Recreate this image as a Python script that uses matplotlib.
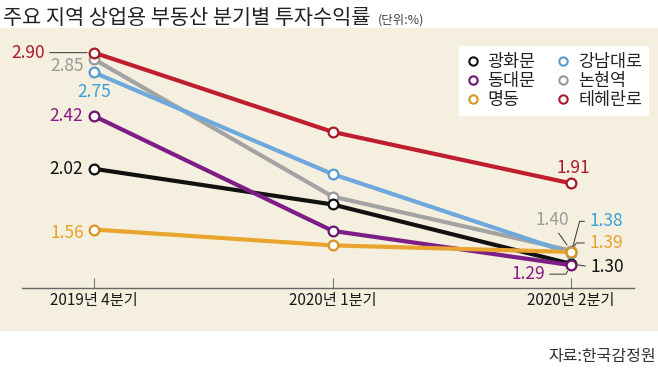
import matplotlib
matplotlib.use("Agg")
import matplotlib.pyplot as plt
from matplotlib.patches import Rectangle
from matplotlib.lines import Line2D

plt.rcParams['font.family'] = ['Noto Sans CJK KR', 'DejaVu Sans']

quarters = ["2019년 4분기", "2020년 1분기", "2020년 2분기"]
names = ["광화문", "동대문", "명동", "강남대로", "논현역", "테헤란로"]
gwanghwamun = [2.02, 1.75, 1.30]
dongdaemun = [2.42, 1.55, 1.29]
myeongdong = [1.56, 1.44, 1.39]
gangnam = [2.75, 1.98, 1.38]
nonhyeon = [2.85, 1.81, 1.40]
teheran = [2.90, 2.30, 1.91]

series = {
    "광화문": gwanghwamun, "동대문": dongdaemun, "명동": myeongdong,
    "강남대로": gangnam, "논현역": nonhyeon, "테헤란로": teheran,
}
line_colors = {"광화문": "#111111", "동대문": "#7d1d86", "명동": "#e9a430",
               "강남대로": "#6fa8dc", "논현역": "#a3a3a3", "테헤란로": "#bf1e2e"}
edge_colors = {"광화문": "#111111", "동대문": "#6a1570", "명동": "#d9951f",
               "강남대로": "#5a9bd0", "논현역": "#999999", "테헤란로": "#a8192a"}
label_colors = {"광화문": "#111111", "동대문": "#8a1a8a", "명동": "#e8a22a",
                "강남대로": "#3aa0d8", "논현역": "#9a9a9a", "테헤란로": "#a8192a"}
draw_order = ["논현역", "강남대로", "광화문", "동대문", "명동", "테헤란로"]

W, H = 658, 382
fig = plt.figure(figsize=(W / 100, H / 100), dpi=100)
fig.patch.set_facecolor("white")
fig.patches.append(Rectangle((0, (H - 331) / H), 1, (331 - 28) / H,
                             transform=fig.transFigure, facecolor="#f4efde",
                             edgecolor="none", zorder=-10))

ax = fig.add_axes([22 / W, (H - 288) / H, 612 / W, (288 - 40) / H])
ax.set_facecolor("none")
ax.set_zorder(1)
ax.set_xlim(-0.302, 2.264)
ax.set_ylim(1.117, 2.996)

xs = list(range(len(quarters)))
for z, name in enumerate(draw_order):
    ax.plot(xs, series[name], color=line_colors[name], lw=3.0,
            solid_capstyle="round", zorder=2 + z,
            marker="o", markersize=7, markerfacecolor="white",
            markeredgecolor=edge_colors[name], markeredgewidth=1.6)

for s in ["top", "right", "left"]:
    ax.spines[s].set_visible(False)
ax.spines["bottom"].set_color("#666666")
ax.spines["bottom"].set_linewidth(1.0)
ax.set_yticks([])
ax.set_xticks(xs)
ax.set_xticklabels(quarters, fontsize=11, color="#1a1a1a")
ax.tick_params(axis="x", direction="in", length=7, width=0.8, color="#777777", pad=3)

px = 0.72  # points per pixel


def lab(name, idx, dx, dy, conn=None, relpos=(0.5, 0.5), shrinkB=5):
    v = series[name][idx]
    kw = dict(xy=(idx, v), xytext=(dx * px, dy * px), textcoords="offset points",
              ha="center", va="center", fontsize=12.5, color=label_colors[name],
              zorder=20)
    if conn is not None:
        kw["arrowprops"] = dict(arrowstyle="-", color="#333333", lw=0.7,
                                connectionstyle=conn, shrinkA=1.5, shrinkB=shrinkB,
                                relpos=relpos)
    ax.annotate(f"{v:.2f}", **kw)


lab("테헤란로", 0, -66, 0, conn="arc3", relpos=(1, 0.5))
lab("논현역", 0, -27, -7)
lab("강남대로", 0, 0, -20)
lab("동대문", 0, -28, 0)
lab("광화문", 0, -28, 0)
lab("명동", 0, -27, -3)
lab("테헤란로", 2, 2, 15)
lab("논현역", 2, -19, 31, conn="arc3", relpos=(0.6, 0))
lab("강남대로", 2, 35, 32, conn="angle,angleA=0,angleB=75,rad=0", relpos=(0, 0.5))
lab("명동", 2, 35, 9, conn="angle,angleA=0,angleB=60,rad=0", relpos=(0, 0.5))
lab("광화문", 2, 36, -3, conn="arc3", relpos=(0, 0.5))
lab("동대문", 2, -43, -9, conn="angle,angleA=0,angleB=60,rad=0", relpos=(1, 0.5))

handles = [Line2D([], [], linestyle="none", marker="o", markersize=6,
                  markerfacecolor="white", markeredgecolor=edge_colors[n],
                  markeredgewidth=1.5) for n in names]
leg = fig.legend(handles, names, ncol=2, loc="upper right",
                 bbox_to_anchor=(649 / W, (H - 46) / H),
                 fontsize=12.5, frameon=True, fancybox=False,
                 handlelength=0.8, handletextpad=0.45, columnspacing=1.2,
                 labelspacing=0.05, borderpad=0.4, borderaxespad=0)
leg.set_zorder(30)
leg.get_frame().set_facecolor("white")
leg.get_frame().set_edgecolor("none")
leg.get_frame().set_alpha(1)
for t in leg.get_texts():
    t.set_color("#222222")

fig.text(3 / W, 1 - 18 / H, "주요 지역 상업용 부동산 분기별 투자수익률",
         fontsize=15, fontweight="medium", color="#222222", ha="left", va="center")
fig.text(378 / W, 1 - 20 / H, "(단위:%)", fontsize=9, color="#444444",
         ha="left", va="center")
fig.text(656 / W, 1 - 357 / H, "자료:한국감정원", fontsize=11.5, color="#333333",
         ha="right", va="center")

fig.savefig("out.png", dpi=100, facecolor=fig.get_facecolor())
